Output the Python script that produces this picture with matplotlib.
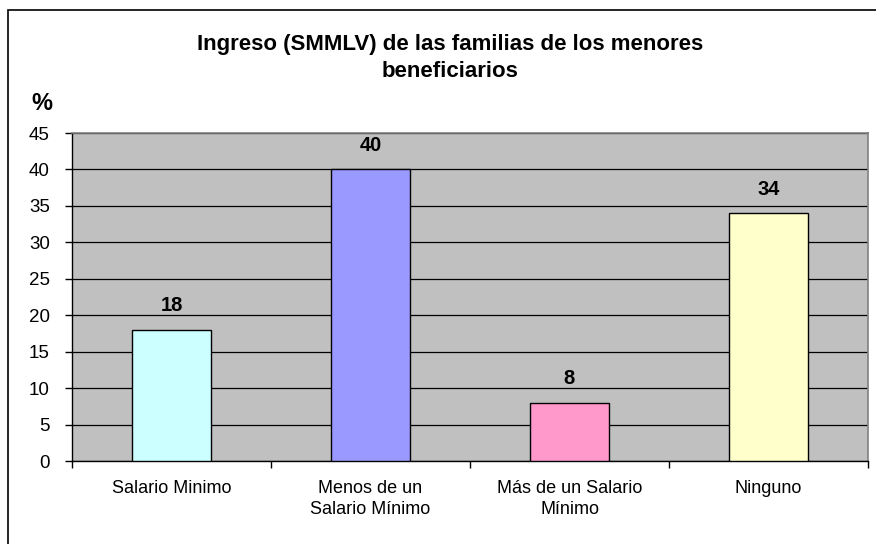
import numpy as np
import matplotlib.pyplot as plt
from matplotlib.patches import Rectangle

categorias = ['Salario Minimo', 'Menos de un\nSalario Mínimo', 'Más de un Salario\nMínimo', 'Ninguno']
valores = [18, 40, 8, 34]
colores = ['#CCFFFF', '#9999FF', '#FF99CC', '#FFFFCC']
yticks = [0, 5, 10, 15, 20, 25, 30, 35, 40, 45]

plt.rcParams['font.family'] = ['Liberation Sans', 'DejaVu Sans']

W, H = 876, 544
fig = plt.figure(figsize=(W / 100, H / 100), dpi=100)
ax = fig.add_axes([72 / W, 1 - 461 / H, (868 - 72) / W, (461 - 133) / H])
ax.set_facecolor('#C0C0C0')

# marco exterior del grafico
fig.patches.append(Rectangle((8 / W, -0.05), 1.2, 1 - 10 / H + 0.05, transform=fig.transFigure,
                             fill=False, edgecolor='black', linewidth=1.2, zorder=0))

x = np.arange(len(valores))
ax.bar(x, valores, width=0.4, color=colores, edgecolor='black', linewidth=1, zorder=3)
for xi, v in zip(x, valores):
    ax.text(xi, v + 3.3, str(v), ha='center', va='center', fontsize=14.5, fontweight='bold')

ax.set_xlim(-0.5, 3.5)
ax.set_ylim(0, 45)
ax.set_yticks(yticks)
ax.yaxis.grid(True, color='black', linewidth=0.9, zorder=1)
ax.set_axisbelow(True)
ax.tick_params(axis='y', direction='out', length=5, width=1, labelsize=13.5, pad=11)
ax.set_xticks(x)
ax.set_xticklabels(categorias, fontsize=13, linespacing=1.3)
ax.tick_params(axis='x', length=0, pad=14)
ax.set_xticks(np.arange(-0.5, 4, 1), minor=True)
ax.tick_params(axis='x', which='minor', direction='out', length=5, width=1)

for s in ['top', 'right']:
    ax.spines[s].set_color('#808080')
    ax.spines[s].set_linewidth(1.2)
for s in ['left', 'bottom']:
    ax.spines[s].set_color('black')
    ax.spines[s].set_linewidth(1)

fig.text(450 / W, 1 - 58 / H, 'Ingreso (SMMLV) de las familias de los menores\nbeneficiarios',
         ha='center', va='center', fontsize=16, fontweight='bold', linespacing=1.35)
fig.text(42 / W, 1 - 103 / H, '%', ha='center', va='center', fontsize=17, fontweight='bold')

fig.savefig('out.png', dpi=100)
